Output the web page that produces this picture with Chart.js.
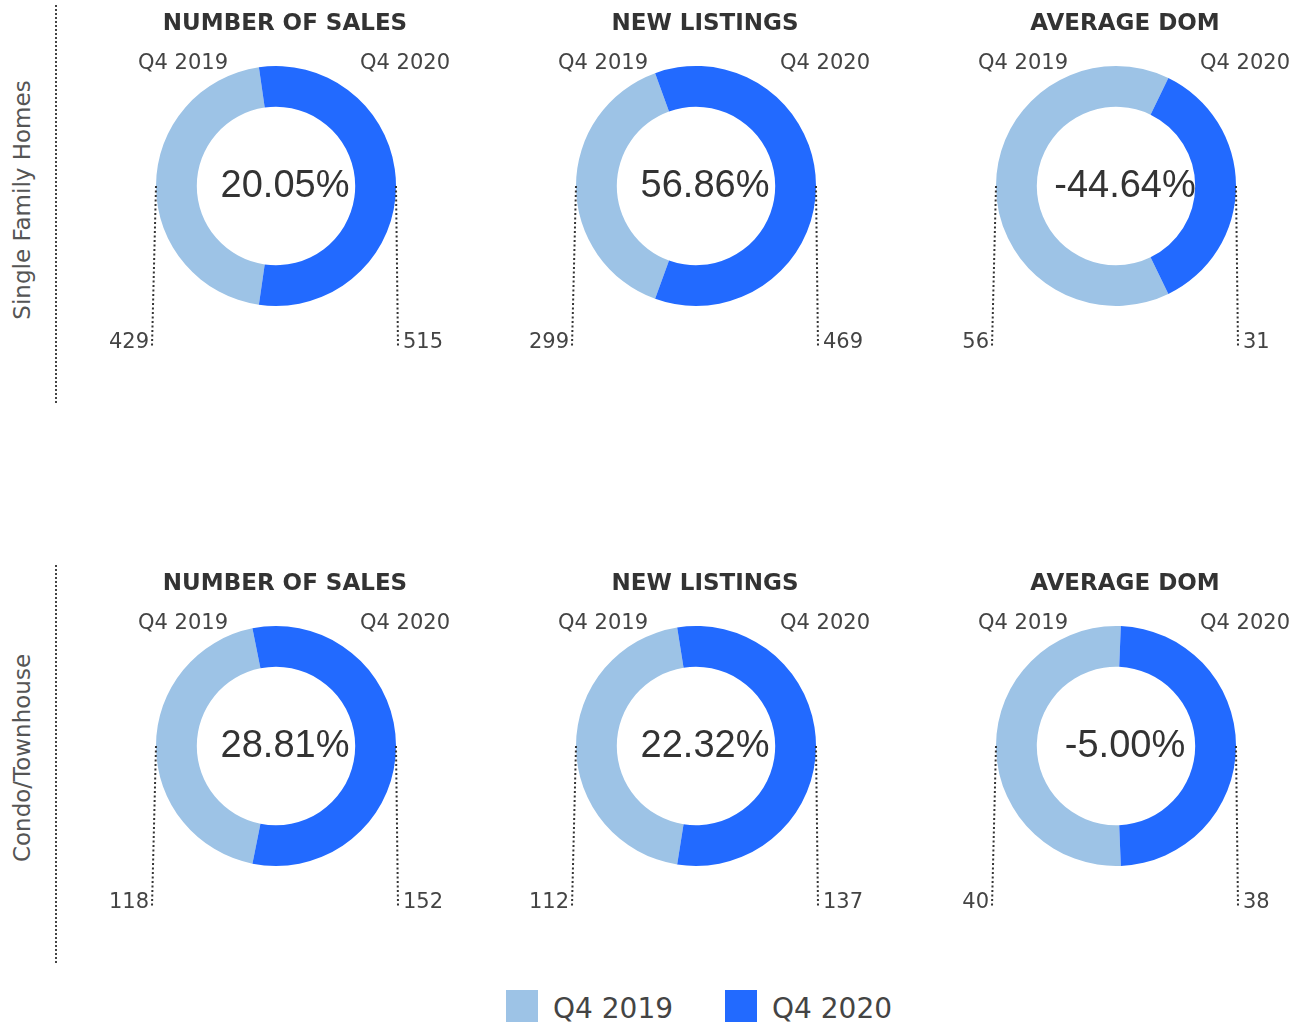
<!DOCTYPE html>
<html>
<head>
<meta charset="utf-8">
<script src="https://cdn.jsdelivr.net/npm/chart.js@4.4.0/dist/chart.umd.min.js"></script>
<style>
  html, body { margin: 0; padding: 0; background: #fff; }
  #wrap { position: relative; width: 1306px; height: 1026px; overflow: hidden; font-family: "DejaVu Sans", sans-serif; }
  .cell { position: absolute; width: 420px; height: 372px; }
  .rowlabel { position: absolute; left: 22px; color: #555; font-size: 23px; white-space: nowrap;
              transform: translate(-50%, -50%) rotate(-90deg); }
  .vline { position: absolute; left: 55px; width: 2px; height: 400px;
           background-image: linear-gradient(#444 50%, transparent 50%); background-size: 2px 4px; }
  #legend { position: absolute; top: 986px; left: 506px; display: flex; align-items: center; color: #444; font-size: 28px; }
  #legend span.box { display: inline-block; width: 32px; height: 32px; margin-right: 15px; }
</style>
</head>
<body>
<div id="wrap">
  <div class="vline" style="top:5px"></div>
  <div class="vline" style="top:565px"></div>
  <div id="legend">
    <span class="box" style="background:#9DC3E6"></span><span style="margin-right:52px;margin-top:6px">Q4 2019</span>
    <span class="box" style="background:#226AFF"></span><span style="margin-top:6px">Q4 2020</span>
  </div>
</div>
<script>
// periods and metrics
var categories = ['Q4 2019', 'Q4 2020'];
var metrics = ['NUMBER OF SALES', 'NEW LISTINGS', 'AVERAGE DOM'];
var segments = ['Single Family Homes', 'Condo/Townhouse'];

// values per segment, one entry per metric
var sfhQ42019 = [429, 299, 56];
var sfhQ42020 = [515, 469, 31];
var condoQ42019 = [118, 112, 40];
var condoQ42020 = [152, 137, 38];

var colors = ['#9DC3E6', '#226AFF'];
var textColor = '#333';

var rows = [
  { label: segments[0], a: sfhQ42019, b: sfhQ42020 },
  { label: segments[1], a: condoQ42019, b: condoQ42020 }
];

// draws title, period labels, leader lines and the change in the middle
var donutText = {
  id: 'donutText',
  afterDraw: function(chart, args, opts) {
    var ctx = chart.ctx;
    var arc = chart.getDatasetMeta(0).data[0];
    var cx = arc.x, cy = arc.y, r = arc.outerRadius;
    var vals = chart.data.datasets[0].data;
    ctx.save();
    ctx.fillStyle = textColor;
    ctx.textBaseline = 'middle';

    ctx.font = 'bold 23px "DejaVu Sans"';
    ctx.textAlign = 'center';
    ctx.fillText(opts.title, cx + 9, cy - 162);

    ctx.font = '21px "DejaVu Sans"';
    ctx.fillStyle = '#444';
    ctx.textAlign = 'right';
    ctx.fillText(chart.data.labels[0], cx - 48, cy - 122);
    ctx.textAlign = 'left';
    ctx.fillText(chart.data.labels[1], cx + 84, cy - 122);

    // leader lines
    ctx.strokeStyle = '#333';
    ctx.lineWidth = 2;
    ctx.setLineDash([2, 2.5]);
    ctx.beginPath();
    ctx.moveTo(cx - r, cy);
    ctx.lineTo(cx - r - 4, cy + 160);
    ctx.moveTo(cx + r, cy);
    ctx.lineTo(cx + r + 2, cy + 160);
    ctx.stroke();
    ctx.setLineDash([]);

    ctx.textAlign = 'right';
    ctx.fillText(vals[0], cx - r - 7, cy + 157);
    ctx.textAlign = 'left';
    ctx.fillText(vals[1], cx + r + 7, cy + 157);

    var change = (vals[1] - vals[0]) / vals[0] * 100;
    ctx.font = '38px "Liberation Sans"';
    ctx.fillStyle = textColor;
    ctx.textAlign = 'center';
    ctx.fillText(change.toFixed(2) + '%', cx + 9, cy + 1);
    ctx.restore();
  }
};

var wrap = document.getElementById('wrap');
rows.forEach(function(row, ri) {
  var lab = document.createElement('div');
  lab.className = 'rowlabel';
  lab.style.top = (200 + ri * 558) + 'px';
  lab.textContent = row.label;
  wrap.appendChild(lab);

  metrics.forEach(function(m, mi) {
    var div = document.createElement('div');
    div.className = 'cell';
    div.style.left = (66 + mi * 420) + 'px';
    div.style.top = (ri * 560) + 'px';
    var cv = document.createElement('canvas');
    div.appendChild(cv);
    wrap.appendChild(div);

    var a = row.a[mi], b = row.b[mi];
    new Chart(cv, {
      type: 'doughnut',
      data: {
        labels: categories,
        datasets: [{
          data: [a, b],
          backgroundColor: colors,
          borderWidth: 0
        }]
      },
      options: {
        responsive: true,
        maintainAspectRatio: false,
        animation: false,
        events: [],
        cutout: '66%',
        // keep the Q4 2019 slice centred on the left side
        rotation: 270 - 180 * a / (a + b),
        layout: { padding: { top: 66, bottom: 66, left: 90, right: 90 } },
        plugins: {
          legend: { display: false },
          tooltip: { enabled: false },
          donutText: { title: m }
        }
      },
      plugins: [donutText]
    });
  });
});
</script>
</body>
</html>
